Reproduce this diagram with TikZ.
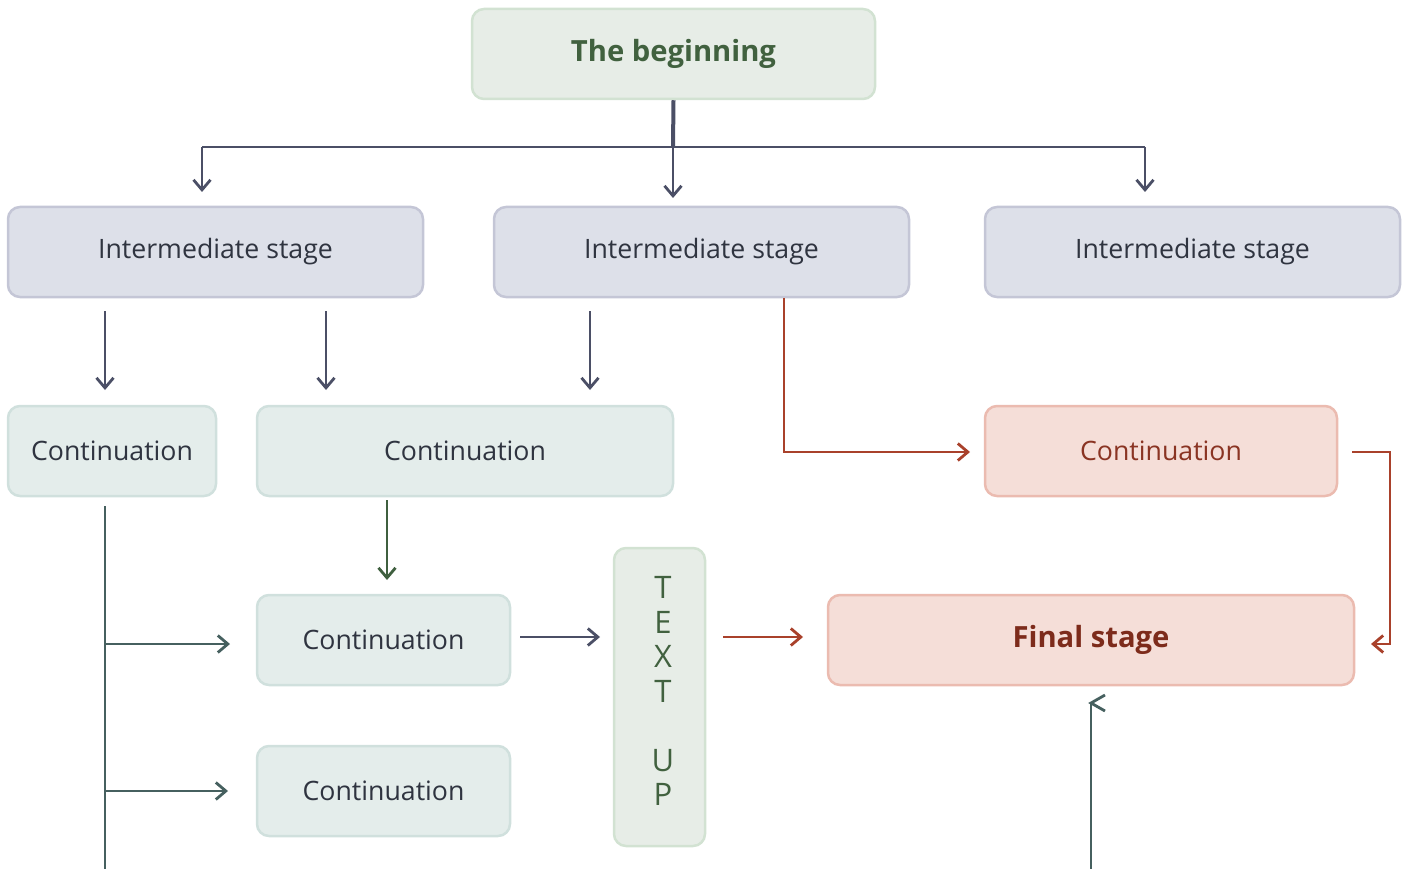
\documentclass[tikz,border=0pt]{standalone}
\usepackage{fontspec}
\setmainfont{Open Sans}
\usetikzlibrary{arrows.meta}
\definecolor{slate}{HTML}{4B4F66}
\definecolor{tealc}{HTML}{46605F}
\definecolor{greenc}{HTML}{3F5F3F}
\definecolor{redc}{HTML}{A9412B}
\definecolor{begfill}{HTML}{E7EDE7}
\definecolor{begdraw}{HTML}{D2E2D2}
\definecolor{begtext}{HTML}{41613F}
\definecolor{intfill}{HTML}{DDE0E9}
\definecolor{intdraw}{HTML}{C4C6D6}
\definecolor{darktext}{HTML}{2F3440}
\definecolor{confill}{HTML}{E4EDEB}
\definecolor{condraw}{HTML}{D0E0DD}
\definecolor{pinkfill}{HTML}{F5DED8}
\definecolor{pinkdraw}{HTML}{EBBBB0}
\definecolor{pinktext}{HTML}{8A3423}
\definecolor{fintext}{HTML}{7D2B1B}
\tikzset{
  box/.style={rectangle, rounded corners=12pt, line width=2.5pt, inner sep=0pt,
    minimum height=90pt, font=\fontsize{26.7}{32}\selectfont},
  begbox/.style={box, fill=begfill, draw=begdraw, text=begtext, font=\fontsize{29.2}{34}\selectfont\bfseries},
  intbox/.style={box, fill=intfill, draw=intdraw, text=darktext, minimum width=415pt},
  conbox/.style={box, fill=confill, draw=condraw, text=darktext},
  pinkbox/.style={box, fill=pinkfill, draw=pinkdraw, text=pinktext},
  conn/.style={line width=2.8pt, -{Straight Barb[length=10pt,width=17pt]}},
  plain/.style={line width=2.8pt},
}
\begin{document}
\begin{tikzpicture}[x=1pt,y=-1pt]
\useasboundingbox (0,0) rectangle (1408,869);
% nodes
\node[begbox, minimum width=403pt] (beg) at (673.5,54) {The beginning};
\node[intbox] (i1) at (215.5,252) {Intermediate stage};
\node[intbox] (i2) at (701.5,252) {Intermediate stage};
\node[intbox] (i3) at (1192.5,252) {Intermediate stage};
\node[conbox, minimum width=208pt] (cA) at (112,451) {Continuation};
\node[conbox, minimum width=416pt] (cB) at (465,451) {Continuation};
\node[pinkbox, minimum width=352pt] (cC) at (1161,451) {Continuation};
\node[conbox, minimum width=253pt] (cD) at (383.5,640) {Continuation};
\node[conbox, minimum width=253pt] (cE) at (383.5,791) {Continuation};
\node[box, fill=begfill, draw=begdraw, minimum width=91pt, minimum height=298pt] (tu) at (659.5,697) {};
\node[text=begtext, align=center, inner sep=0pt, font=\fontsize{31}{34.5}\selectfont]
  (tut) at ([xshift=3.5pt,yshift=6pt]tu.center) {T\\E\\X\\T\\[34.5pt]U\\P};
\node[box, fill=pinkfill, draw=pinkdraw, text=fintext, minimum width=526pt,
  font=\fontsize{29.2}{34}\selectfont\bfseries] (fin) at (1091,640) {Final stage};
% coordinates
\coordinate (hb) at (673,147);
\coordinate (hl) at (202,147);
\coordinate (hr) at (1145,147);
\coordinate (a1) at (202,192);
\coordinate (a2) at (673,198);
\coordinate (a3) at (1145,192);
\foreach \x [count=\i] in {105,326,590}{
  \coordinate (s\i) at (\x,311);
  \coordinate (e\i) at (\x,390);
}
\coordinate (r0) at (784,298);
\coordinate (r1) at (784,452);
\coordinate (r2) at (970,452);
\coordinate (q0) at (1352,452);
\coordinate (q1) at (1390,452);
\coordinate (q2) at (1390,644);
\coordinate (q3) at (1371,644);
\coordinate (g0) at (387,500);
\coordinate (g1) at (387,580);
\coordinate (m0) at (520,637);
\coordinate (m1) at (600,637);
\coordinate (n0) at (723,637);
\coordinate (n1) at (803,637);
\coordinate (t0) at (105,506);
\coordinate (t1) at (105,869);
\coordinate (tb1) at (105,644);
\coordinate (tb1e) at (230,644);
\coordinate (tb2) at (105,791);
\coordinate (tb2e) at (228,791);
\coordinate (u0) at (1091,869);
\coordinate (u1) at (1091,703);
\coordinate (u1a) at (1105,695);
\coordinate (u1b) at (1105,711);
% connectors
\draw[slate, line width=4pt] (beg.south) -- (hb);
\draw[slate, plain] (hl) -- (hr);
\draw[slate, conn] (hl) -- (a1);
\draw[slate, conn] (hb) -- (a2);
\draw[slate, conn] (hr) -- (a3);
\foreach \i in {1,2,3}{ \draw[slate, conn] (s\i) -- (e\i); }
\draw[redc, conn] (r0) -- (r1) -- (r2);
\draw[redc, conn] (q0) -- (q1) -- (q2) -- (q3);
\draw[greenc, conn] (g0) -- (g1);
\draw[slate, conn] (m0) -- (m1);
\draw[redc, conn] (n0) -- (n1);
\draw[tealc, plain] (t0) -- (t1);
\draw[tealc, conn] (tb1) -- (tb1e);
\draw[tealc, conn] (tb2) -- (tb2e);
\draw[tealc, plain] (u0) -- (u1);
\draw[tealc, plain] (u1a) -- (u1) -- (u1b);
\end{tikzpicture}
\end{document}
